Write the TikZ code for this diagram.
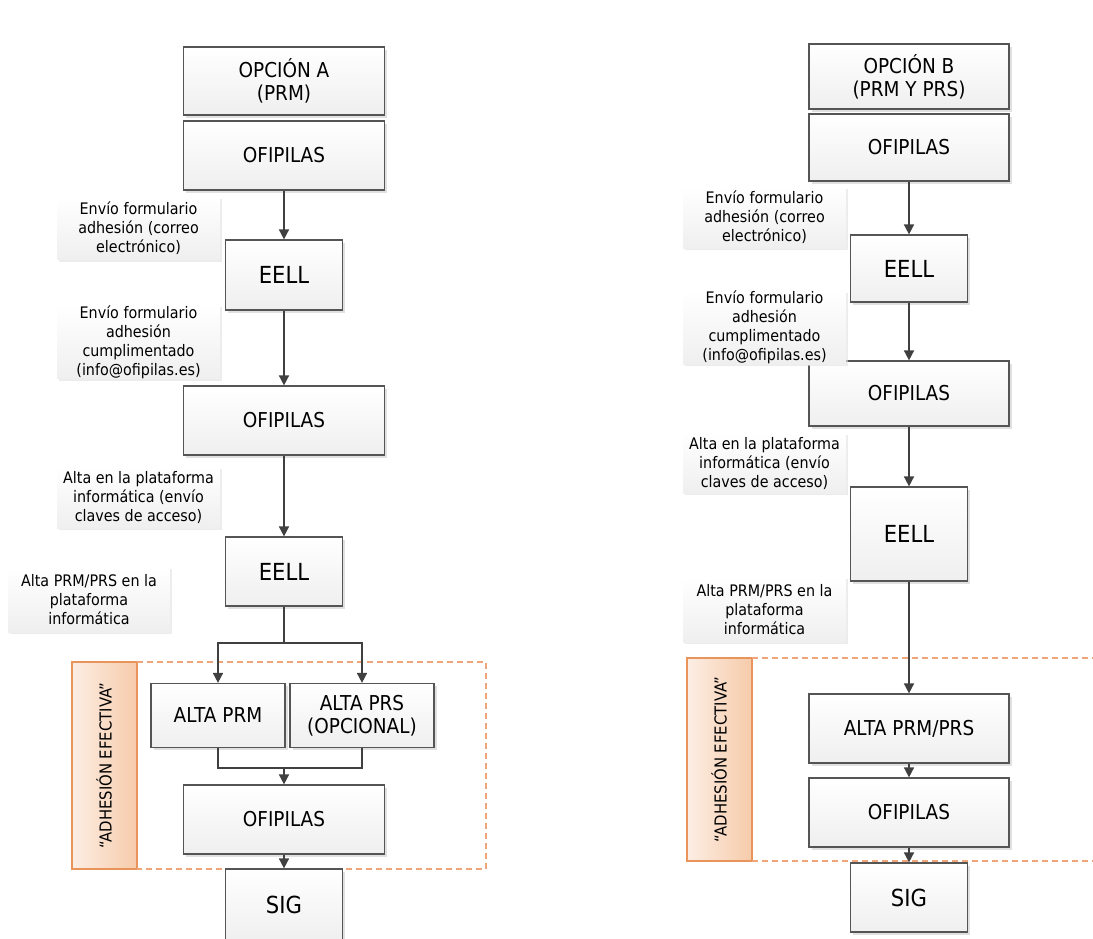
\documentclass[tikz,border=0pt]{standalone}
\usepackage{fontspec}
\setmainfont{DejaVu Sans}[FakeStretch = 0.9]
\usetikzlibrary{arrows.meta,shadows}

\definecolor{boxline}{HTML}{555555}
\definecolor{arrowline}{HTML}{404040}
\definecolor{boxlow}{HTML}{EFEFEF}
\definecolor{orline}{HTML}{E8945A}
\definecolor{orleft}{HTML}{FCEEE4}
\definecolor{orright}{HTML}{F6CBAA}
\definecolor{ordash}{HTML}{EFA57A}

\begin{document}
\begin{tikzpicture}[x = 1pt, y = -1pt, line width = 1pt,
                        stepbox/.style = {rectangle, draw = boxline, line width = 1.2pt, top color = white, bottom color = boxlow,
                                          align = center, inner sep = 0pt, font = \fontsize{20.5}{23}\selectfont,
                                          drop shadow = {shadow xshift = 2.5pt, shadow yshift = -2.5pt, fill = black!20, opacity = 0.6}},
                        bigbox/.style = {stepbox, font = \fontsize{23.5}{26}\selectfont, minimum width = 117pt},
                        widebox/.style = {stepbox, minimum width = 201pt},
                        note/.style = {rectangle, top color = white, bottom color = boxlow, align = center,
                                       inner sep = 0pt, minimum width = 163pt, font = \fontsize{15.9}{19}\selectfont,
                                       drop shadow = {shadow xshift = 2pt, shadow yshift = -2pt, fill = black!12, opacity = 0.6}},
                        band/.style = {draw = orline, left color = orleft, right color = orright, line width = 1.2pt},
                        zone/.style = {draw = ordash, dashed, dash pattern = on 6pt off 4pt, line width = 1.2pt},
                        flow/.style = {draw = arrowline, line width = 1.6pt, -{Triangle[length = 10pt, width = 10pt]}},
                        link/.style = {draw = arrowline, line width = 1.6pt}]
      \useasboundingbox (0, 0) rectangle (1093, 938);
      % opcion A
      \draw [band] (72, 662) rectangle (137, 869);
      \draw [zone] (137, 662) -- (486, 662) -- (486, 869) -- (137, 869);
      \node [rotate = 90, font = \fontsize{16.5}{18}\selectfont] (ea) at (104, 765.5) {“ADHESIÓN EFECTIVA”};
      \node [widebox, minimum height = 68pt] (a0) at (284, 81) {OPCIÓN A\\(PRM)};
      \node [widebox, minimum height = 69pt] (a1) at (284, 155.5) {OFIPILAS};
      \node [bigbox, minimum height = 70pt] (a2) at (284, 275) {EELL};
      \node [widebox, minimum height = 69pt] (a3) at (284, 420.5) {OFIPILAS};
      \node [bigbox, minimum height = 69pt] (a4) at (284, 571.5) {EELL};
      \node [stepbox, minimum width = 134pt, minimum height = 64pt] (a5) at (218, 715.5) {ALTA PRM};
      \node [stepbox, minimum width = 144pt, minimum height = 64pt] (a6) at (362, 715.5) {ALTA PRS\\(OPCIONAL)};
      \node [widebox, minimum height = 69pt] (a7) at (284, 819.5) {OFIPILAS};
      \node [bigbox, minimum height = 72pt] (a8) at (284, 905) {SIG};
      \node [note, minimum height = 63pt] (la1) at (138.5, 228) {Envío formulario\\adhesión (correo\\electrónico)};
      \node [note, minimum height = 70pt] (la2) at (138.5, 342) {Envío formulario\\adhesión\\cumplimentado\\(info@ofipilas.es)};
      \node [note, minimum height = 61pt] (la3) at (138.5, 497.5) {Alta en la plataforma\\informática (envío\\claves de acceso)};
      \node [note, minimum width = 162pt, minimum height = 65pt] (la4) at (89, 599.5) {Alta PRM/PRS en la\\plataforma\\informática};
      \coordinate (ja) at (284, 643);
      \coordinate (ma) at (284, 768);
      \draw [flow] (a1) -- (a2);
      \draw [flow] (a2) -- (a3);
      \draw [flow] (a3) -- (a4);
      \draw [link] (a4) -- (ja);
      \draw [flow] (ja) -| (a5);
      \draw [flow] (ja) -| (a6);
      \draw [link] (a5) |- (ma);
      \draw [link] (a6) |- (ma);
      \draw [flow] (ma) -- (a7);
      \draw [flow] (a7) -- (a8);
      % opcion B
      \draw [band] (687, 658) rectangle (752, 861);
      \draw [zone] (752, 658) -- (1100, 658);
      \draw [zone] (752, 861) -- (1100, 861);
      \node [rotate = 90, font = \fontsize{16.5}{18}\selectfont] (eb) at (719, 759.5) {“ADHESIÓN EFECTIVA”};
      \node [widebox, minimum width = 200pt, minimum height = 65pt] (b0) at (909, 76.5) {OPCIÓN B\\(PRM Y PRS)};
      \node [widebox, minimum width = 200pt, minimum height = 67pt] (b1) at (909, 147.5) {OFIPILAS};
      \node [bigbox, minimum height = 67pt] (b2) at (909, 268.5) {EELL};
      \node [widebox, minimum width = 200pt, minimum height = 65pt] (b3) at (909, 393.5) {OFIPILAS};
      \node [bigbox, minimum height = 94pt] (b4) at (909, 534) {EELL};
      \node [widebox, minimum width = 200pt, minimum height = 69pt] (b5) at (909, 728.5) {ALTA PRM/PRS};
      \node [widebox, minimum width = 200pt, minimum height = 69pt] (b6) at (909, 812.5) {OFIPILAS};
      \node [bigbox, minimum height = 69pt] (b7) at (909, 897.5) {SIG};
      \node [note, minimum height = 61pt] (lb1) at (764.5, 217.5) {Envío formulario\\adhesión (correo\\electrónico)};
      \node [note, minimum height = 61pt] (lb2) at (764.5, 327.5) {Envío formulario\\adhesión\\cumplimentado\\(info@ofipilas.es)};
      \node [note, minimum height = 60pt] (lb3) at (764.5, 463) {Alta en la plataforma\\informática (envío\\claves de acceso)};
      \node [note, minimum height = 65pt] (lb4) at (764.5, 609.5) {Alta PRM/PRS en la\\plataforma\\informática};
      \draw [flow] (b1) -- (b2);
      \draw [flow] (b2) -- (b3);
      \draw [flow] (b3) -- (b4);
      \draw [flow] (b4) -- (b5);
      \draw [flow] (b5) -- (b6);
      \draw [flow] (b6) -- (b7);
    \end{tikzpicture}
\end{document}
